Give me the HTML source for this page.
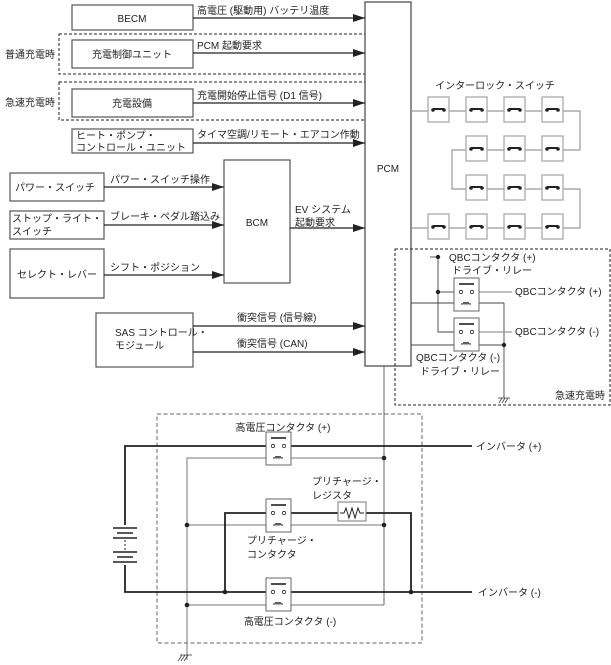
<!DOCTYPE html>
<html><head><meta charset="utf-8"><style>
html,body{margin:0;padding:0;background:#fff;}
svg{display:block;}
text{font-family:"Liberation Sans","Noto Sans CJK JP",sans-serif;font-size:10px;fill:#222;}
</style></head><body>
<svg width="611" height="665" viewBox="0 0 611 665" xmlns="http://www.w3.org/2000/svg">
<defs>
<marker id="ar" markerWidth="12" markerHeight="8" refX="12" refY="4" orient="auto" markerUnits="userSpaceOnUse"><path d="M0,0 L12,4 L0,8 z" fill="#222"/></marker>
<g id="relay">
<rect x="0" y="0" width="25" height="33" fill="#fff" stroke="#666" stroke-width="1"/>
<line x1="5" y1="6" x2="20" y2="6" stroke="#222" stroke-width="1.6"/>
<circle cx="7" cy="14" r="1.7" fill="#fff" stroke="#222" stroke-width="0.8"/>
<circle cx="18" cy="14" r="1.7" fill="#fff" stroke="#222" stroke-width="0.8"/>
<path d="M7,26 h2 q1,-3 2,0 q1,-3 2,0 q1,-3 2,0 h2" fill="none" stroke="#222" stroke-width="1"/>
</g>
<g id="isw">
<rect x="0" y="0" width="21" height="25" fill="#fff" stroke="#aaa" stroke-width="1.3"/>
<line x1="5" y1="12" x2="16" y2="12" stroke="#222" stroke-width="2"/>
<circle cx="5" cy="13" r="1.8" fill="#222"/><circle cx="16" cy="13" r="1.8" fill="#222"/>
</g>
</defs>

<rect x="59" y="34" width="326" height="40" fill="none" stroke="#222" stroke-dasharray="3,2"/>
<rect x="59" y="82" width="326" height="38" fill="none" stroke="#222" stroke-dasharray="3,2"/>
<text x="5" y="58">普通充電時</text>
<text x="5" y="106">急速充電時</text>

<rect x="365" y="2" width="46" height="364" fill="#fff" stroke="#444" stroke-width="1.2"/>
<text x="388" y="172" text-anchor="middle">PCM</text>

<g fill="#fff" stroke="#555" stroke-width="1.2">
<rect x="72" y="5" width="121" height="25"/>
<rect x="72" y="40" width="121" height="28"/>
<rect x="72" y="89" width="121" height="28"/>
<rect x="72" y="129" width="121" height="24"/>
<rect x="224" y="160" width="66" height="123"/>
<rect x="10" y="173" width="94" height="28"/>
<rect x="10" y="211" width="94" height="28"/>
<rect x="10" y="249" width="94" height="49"/>
<rect x="96" y="313" width="97" height="54"/>
</g>
<text x="132" y="22" text-anchor="middle">BECM</text>
<text x="132" y="58" text-anchor="middle">充電制御ユニット</text>
<text x="132" y="107" text-anchor="middle">充電設備</text>
<text x="76" y="139">ヒート・ポンプ・</text>
<text x="76" y="151">コントロール・ユニット</text>
<text x="257" y="226" text-anchor="middle">BCM</text>
<text x="15" y="191">パワー・スイッチ</text>
<text x="12" y="222">ストップ・ライト・</text>
<text x="12" y="235">スイッチ</text>
<text x="57" y="278" text-anchor="middle">セレクト・レバー</text>
<text x="115" y="336">SAS コントロール・</text>
<text x="115" y="349">モジュール</text>

<g stroke="#222" stroke-width="1.2" marker-end="url(#ar)">
<line x1="193" y1="18" x2="365" y2="18"/>
<line x1="193" y1="53" x2="365" y2="53"/>
<line x1="193" y1="103" x2="365" y2="103"/>
<line x1="193" y1="143" x2="365" y2="143"/>
<line x1="104" y1="187" x2="224" y2="187"/>
<line x1="104" y1="225" x2="224" y2="225"/>
<line x1="104" y1="275" x2="224" y2="275"/>
<line x1="290" y1="228" x2="365" y2="228"/>
<line x1="193" y1="326" x2="365" y2="326"/>
<line x1="193" y1="352" x2="365" y2="352"/>
</g>
<text x="197" y="14">高電圧 (駆動用) バッテリ温度</text>
<text x="197" y="49">PCM 起動要求</text>
<text x="197" y="99">充電開始停止信号 (D1 信号)</text>
<text x="197" y="138">タイマ空調/リモート・エアコン作動</text>
<text x="110" y="183">パワー・スイッチ操作</text>
<text x="110" y="220">ブレーキ・ペダル踏込み</text>
<text x="110" y="271">シフト・ポジション</text>
<text x="295" y="213">EV システム</text>
<text x="295" y="226">起動要求</text>
<text x="237" y="321">衝突信号 (信号線)</text>
<text x="237" y="347">衝突信号 (CAN)</text>

<text x="495" y="89" text-anchor="middle">インターロック・スイッチ</text>
<g stroke="#999" stroke-width="1.2" fill="none">
<polyline points="411,111 580,111 580,150 452,150 452,189 580,189 580,228 411,228"/>
</g>
<g>
<use href="#isw" x="428" y="97"/><use href="#isw" x="466" y="97"/><use href="#isw" x="504" y="97"/><use href="#isw" x="542" y="97"/>
<use href="#isw" x="466" y="136"/><use href="#isw" x="504" y="136"/><use href="#isw" x="542" y="136"/>
<use href="#isw" x="466" y="175"/><use href="#isw" x="504" y="175"/><use href="#isw" x="542" y="175"/>
<use href="#isw" x="428" y="214"/><use href="#isw" x="466" y="214"/><use href="#isw" x="504" y="214"/><use href="#isw" x="542" y="214"/>
</g>

<rect x="395" y="249" width="215" height="156" fill="none" stroke="#222" stroke-dasharray="3,2"/>
<text x="555" y="399">急速充電時</text>
<g stroke="#444" stroke-width="0.9" fill="none">
<line x1="430" y1="257" x2="438" y2="257"/>
<polyline points="438,257 438,332 454,332"/>
<line x1="438" y1="292" x2="454" y2="292"/>
<line x1="411" y1="303" x2="504" y2="303"/>
<line x1="504" y1="303" x2="504" y2="398"/>
<line x1="411" y1="345" x2="504" y2="345"/>
</g>
<g stroke="#999" stroke-width="1.2">
<line x1="479" y1="292" x2="512" y2="292"/>
<line x1="479" y1="332" x2="512" y2="332"/>
</g>
<use href="#relay" x="454" y="278"/>
<use href="#relay" x="454" y="318"/>
<g fill="#222"><circle cx="438" cy="257" r="2.2"/><circle cx="438" cy="292" r="2.2"/><circle cx="504" cy="345" r="2.2"/></g>
<text x="449" y="261">QBCコンタクタ (+)</text>
<text x="452" y="274">ドライブ・リレー</text>
<text x="515" y="295">QBCコンタクタ (+)</text>
<text x="515" y="335">QBCコンタクタ (-)</text>
<text x="416" y="361">QBCコンタクタ (-)</text>
<text x="420" y="375">ドライブ・リレー</text>
<g stroke="#444" stroke-width="0.8"><line x1="499" y1="403" x2="502" y2="398"/><line x1="502" y1="403" x2="505" y2="398"/><line x1="505" y1="403" x2="508" y2="398"/><line x1="498" y1="398" x2="510" y2="398"/></g>

<rect x="157" y="414" width="265" height="229" fill="none" stroke="#666" stroke-dasharray="4,2.5"/>
<line x1="384" y1="366" x2="384" y2="605" stroke="#666" stroke-width="1"/>
<g stroke="#777" stroke-width="1" fill="none">
<polyline points="187,660 187,458 266,458"/>
<line x1="291" y1="458" x2="384" y2="458"/>
<line x1="187" y1="525" x2="266" y2="525"/>
<line x1="291" y1="525" x2="384" y2="525"/>
<line x1="187" y1="605" x2="266" y2="605"/>
<line x1="291" y1="605" x2="384" y2="605"/>
</g>
<g stroke="#222" stroke-width="1.8" fill="none">
<polyline points="125,525 125,446 266,446"/>
<line x1="291" y1="446" x2="472" y2="446"/>
<polyline points="125,565 125,592 266,592"/>
<line x1="291" y1="592" x2="472" y2="592"/>
<polyline points="225,592 225,513 266,513"/>
<line x1="291" y1="513" x2="338" y2="513"/>
<polyline points="366,513 411,513 411,592"/>
</g>
<g stroke="#222">
<line x1="113" y1="528" x2="137" y2="528" stroke-width="1.5"/>
<line x1="117" y1="533" x2="133" y2="533" stroke-width="1.5"/>
<line x1="113" y1="538" x2="137" y2="538" stroke-width="1.5"/>
<line x1="125" y1="540" x2="125" y2="550" stroke-dasharray="2,2" stroke-width="1"/>
<line x1="113" y1="552" x2="137" y2="552" stroke-width="1.5"/>
<line x1="117" y1="557" x2="133" y2="557" stroke-width="1.5"/>
<line x1="113" y1="562" x2="137" y2="562" stroke-width="1.5"/>
</g>
<use href="#relay" x="266" y="432"/>
<use href="#relay" x="266" y="499"/>
<use href="#relay" x="266" y="578"/>
<rect x="338" y="502" width="28" height="19" fill="#fff" stroke="#777" stroke-width="1"/>
<polyline points="340,513 344,513 346,508 349,518 352,508 355,518 358,508 360,513 364,513" fill="none" stroke="#222" stroke-width="1"/>
<g fill="#222">
<circle cx="384" cy="458" r="2.3"/><circle cx="384" cy="525" r="2.3"/>
<circle cx="187" cy="525" r="2.3"/><circle cx="187" cy="605" r="2.3"/>
<circle cx="225" cy="592" r="2.3"/><circle cx="411" cy="592" r="2.3"/>
</g>
<g stroke="#444" stroke-width="0.8"><line x1="178" y1="661" x2="182" y2="655"/><line x1="181" y1="661" x2="185" y2="655"/><line x1="184" y1="661" x2="188" y2="655"/><line x1="180" y1="655" x2="192" y2="655"/></g>
<text x="283" y="431" text-anchor="middle">高電圧コンタクタ (+)</text>
<text x="312" y="485">プリチャージ・</text>
<text x="312" y="499">レジスタ</text>
<text x="247" y="544">プリチャージ・</text>
<text x="247" y="558">コンタクタ</text>
<text x="290" y="625" text-anchor="middle">高電圧コンタクタ (-)</text>
<text x="476" y="450">インバータ (+)</text>
<text x="478" y="596">インバータ (-)</text>
</svg>
</body></html>
